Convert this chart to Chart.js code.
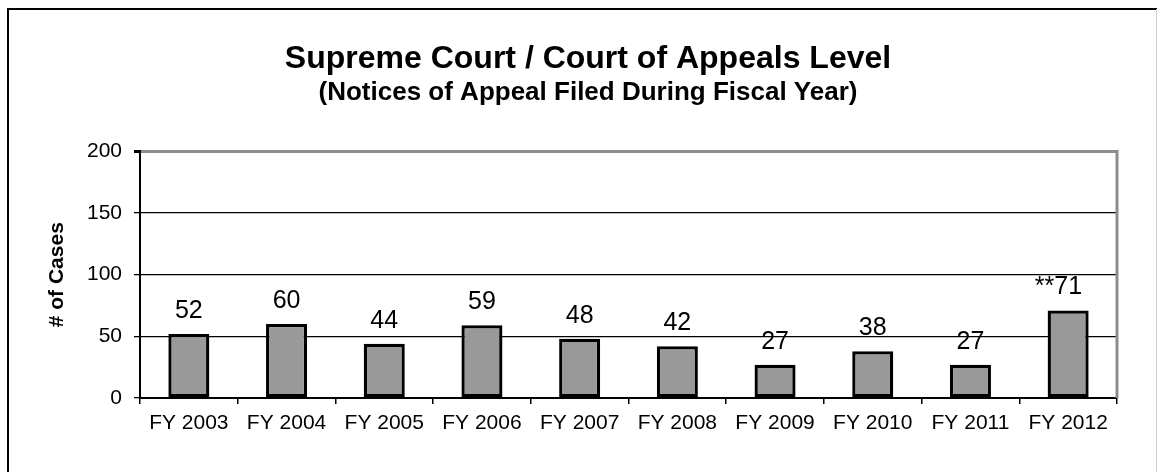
<!DOCTYPE html>
<html>
<head>
<meta charset="utf-8">
<script src="https://cdn.jsdelivr.net/npm/chart.js@4.4.1/dist/chart.umd.min.js"></script>
<style>
  body { margin: 0; background: #fff; }
  canvas { display: block; }
</style>
</head>
<body>
<canvas id="myChart" width="1158" height="472"></canvas>
<script>
'use strict';
// values
let years = ['FY 2003', 'FY 2004', 'FY 2005', 'FY 2006', 'FY 2007', 'FY 2008', 'FY 2009', 'FY 2010', 'FY 2011', 'FY 2012'];
let cases = [52, 60, 44, 59, 48, 42, 27, 38, 27, 71];
let labelPrefix = ['', '', '', '', '', '', '', '', '', '**'];
let yTicks = [0, 50, 100, 150, 200];

let font = 'Arial, "Liberation Sans", sans-serif';

// white page with the thin frame round it
let framePlugin = {
  id: 'frame',
  beforeDraw(chart) {
    let c = chart.ctx;
    c.save();
    c.fillStyle = '#fff';
    c.fillRect(0, 0, chart.width, chart.height);
    c.strokeStyle = '#000';
    c.lineWidth = 2;
    c.beginPath();
    c.moveTo(8, chart.height + 5);
    c.lineTo(8, 9);
    c.lineTo(1157, 9);
    c.stroke();
    c.strokeStyle = '#d0d0d0';
    c.lineWidth = 1;
    c.beginPath();
    c.moveTo(1156.5, 9);
    c.lineTo(1156.5, chart.height);
    c.stroke();
    c.restore();
  },
  beforeDatasetsDraw(chart) {
    let a = chart.chartArea;
    let c = chart.ctx;
    c.save();
    c.strokeStyle = '#8c8c8c';
    c.lineWidth = 3;
    c.beginPath();
    c.moveTo(a.right, a.top - 1.5);
    c.lineTo(a.right, a.bottom);
    c.stroke();
    c.restore();
  }
};

// numbers above the bars
let valuePlugin = {
  id: 'values',
  afterDatasetsDraw(chart) {
    let c = chart.ctx;
    let bars = chart.getDatasetMeta(0).data;
    c.save();
    c.font = '25px ' + font;
    c.fillStyle = '#000';
    c.textBaseline = 'alphabetic';
    for (let i = 0; i < bars.length; i++) {
      let txt = String(cases[i]);
      let w = c.measureText(txt).width;
      let x0 = bars[i].x - w / 2;
      let y = bars[i].y - 16;
      c.textAlign = 'left';
      c.fillText(txt, x0, y);
      if (labelPrefix[i]) {
        c.textAlign = 'right';
        c.fillText(labelPrefix[i], x0, y);
      }
    }
    c.restore();
  }
};

let ctx = document.getElementById('myChart').getContext('2d');
let myChart = new Chart(ctx, {
  type: 'bar',
  data: {
    labels: years,
    datasets: [{
      data: cases,
      backgroundColor: '#999999',
      borderColor: '#000',
      borderWidth: 3.3,
      borderSkipped: false,
      categoryPercentage: 1,
      barPercentage: 0.42
    }]
  },
  options: {
    responsive: false,
    animation: false,
    devicePixelRatio: 1,
    layout: { padding: { left: 18, right: 0, top: 0, bottom: 0 } },
    plugins: {
      legend: { display: false },
      tooltip: { enabled: false },
      title: {
        display: true,
        text: 'Supreme Court / Court of Appeals Level',
        color: '#000',
        font: { family: font, size: 32, weight: 'bold', lineHeight: 1.1 },
        padding: { top: 42, bottom: 0 }
      },
      subtitle: {
        display: true,
        text: '(Notices of Appeal Filed During Fiscal Year)',
        color: '#000',
        font: { family: font, size: 26, weight: 'bold', lineHeight: 1.2 },
        padding: { top: 0, bottom: 43 }
      }
    },
    scales: {
      x: {
        grid: {
          drawOnChartArea: false,
          color: '#000',
          lineWidth: 1.5,
          tickLength: 6
        },
        border: { color: '#000', width: 2 },
        ticks: {
          color: '#000',
          padding: 7,
          maxRotation: 0,
          font: { family: font, size: 21 }
        },
        afterFit(scale) { scale.height = 74; }
      },
      y: {
        min: 0,
        max: 200,
        afterBuildTicks(scale) { scale.ticks = yTicks.map(v => ({ value: v })); },
        grid: {
          color: c => c.tick && c.tick.value === 200 ? '#8c8c8c' : '#000',
          lineWidth: c => c.tick && c.tick.value === 200 ? 3 : 1.3,
          tickColor: '#000',
          tickLength: 6
        },
        border: { color: '#000', width: 2 },
        ticks: {
          color: '#000',
          padding: 12,
          font: { family: font, size: 21 }
        },
        title: {
          display: true,
          text: '# of Cases',
          color: '#000',
          font: { family: font, size: 21, weight: 'bold' },
          padding: { top: 27, bottom: 0 }
        },
        afterFit(scale) { scale.width = 122; }
      },
      // empty right-hand axis, only keeps the space right of the plot
      right: {
        position: 'right',
        min: 0,
        max: 200,
        grid: { display: false },
        border: { display: false },
        ticks: { display: false },
        afterFit(scale) { scale.width = 41; }
      }
    }
  },
  plugins: [framePlugin, valuePlugin]
});
</script>
</body>
</html>
